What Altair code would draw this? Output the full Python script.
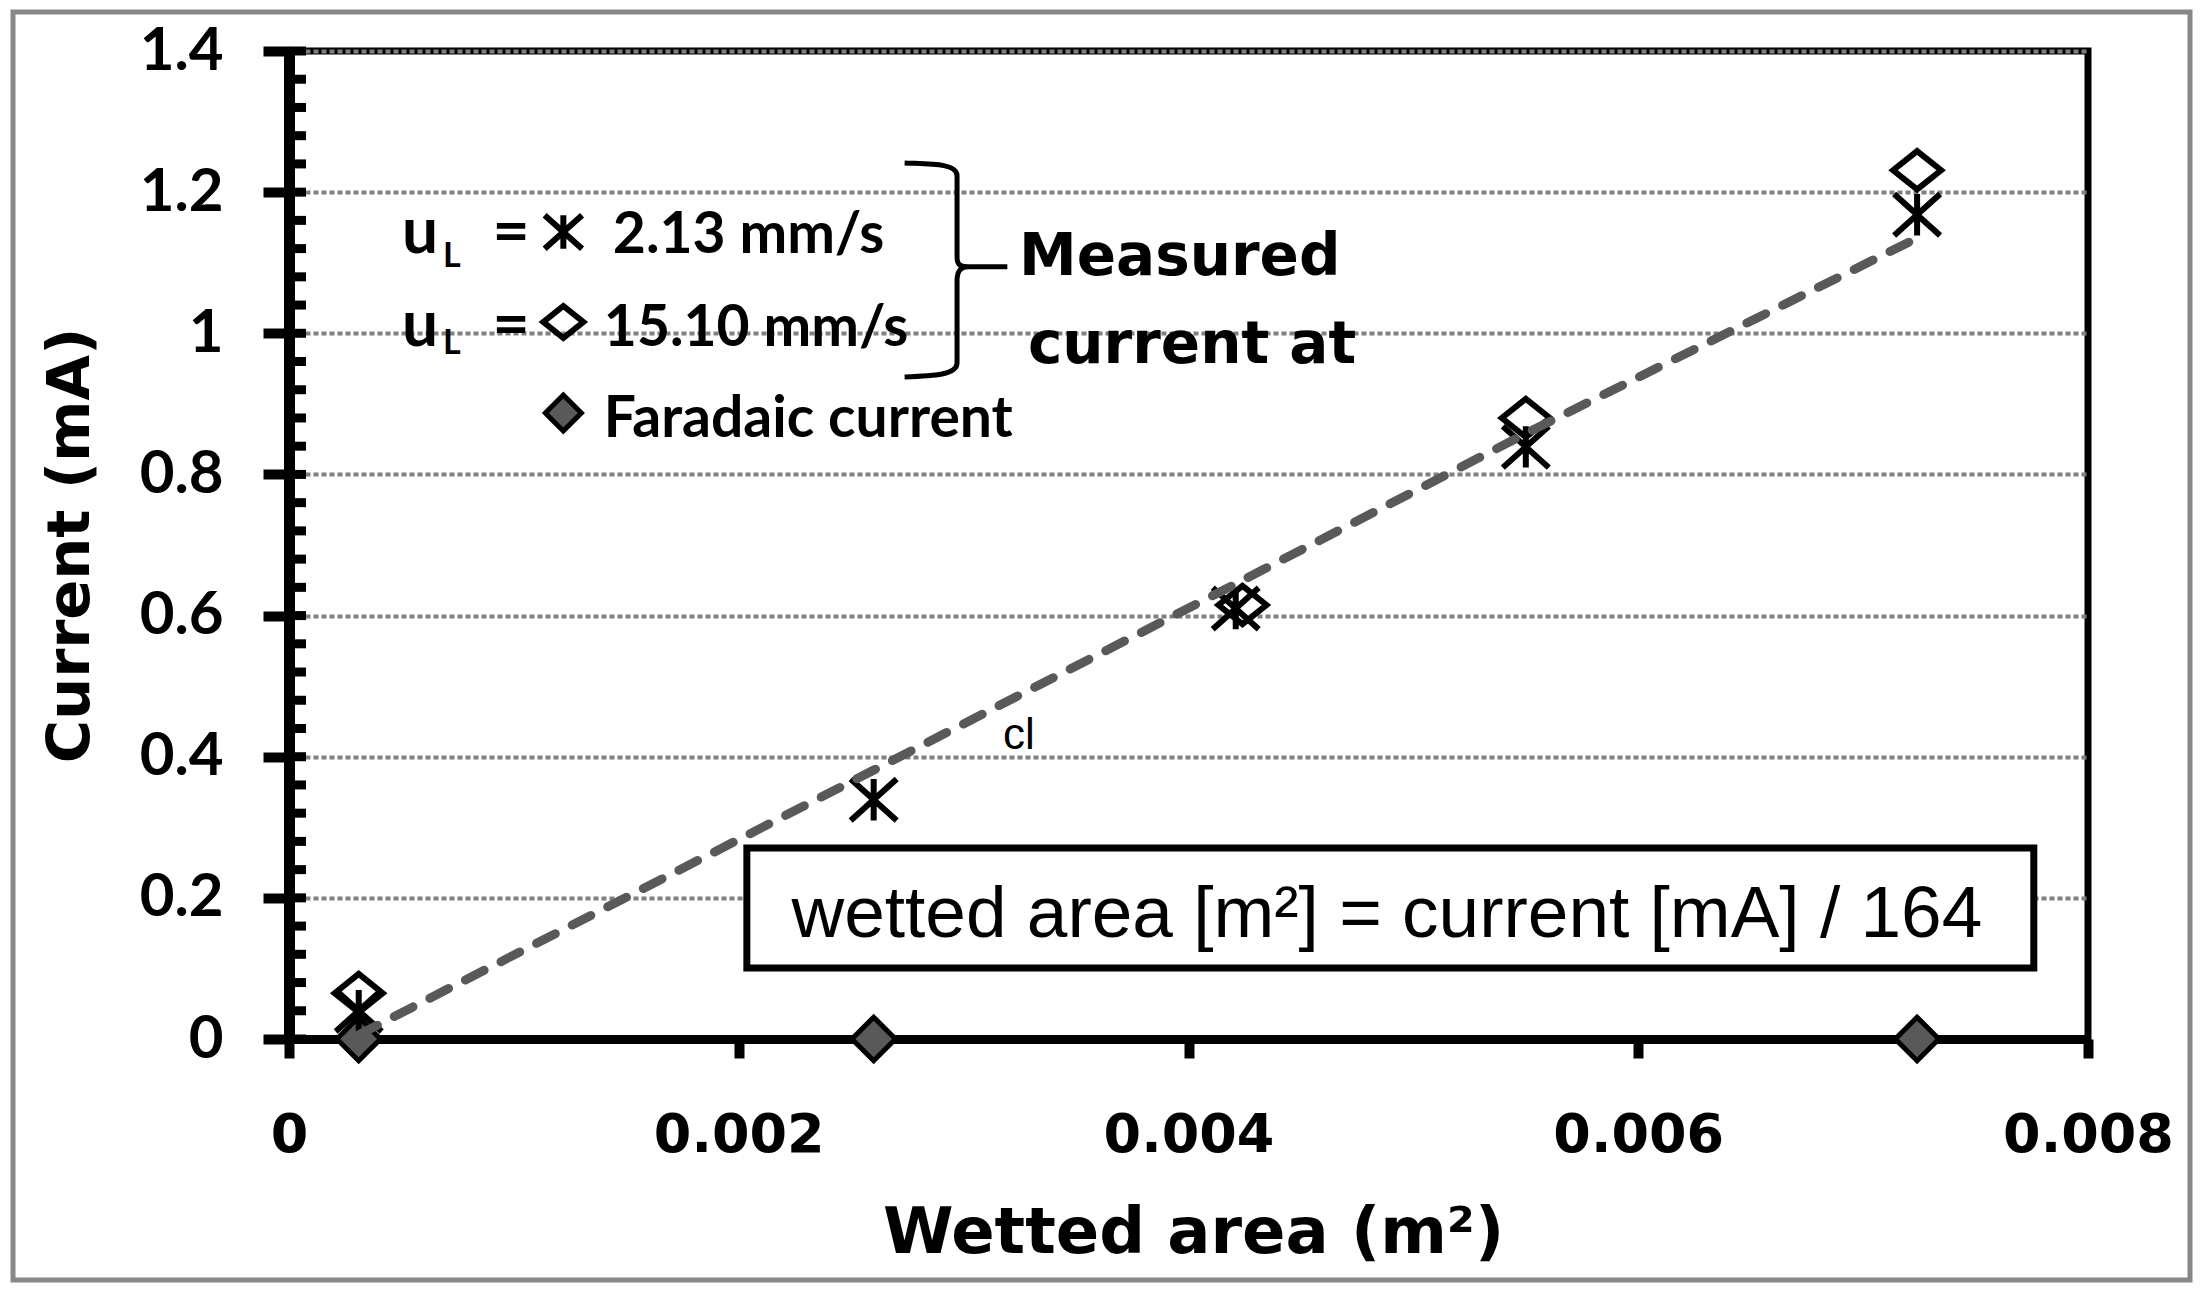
import altair as alt
import pandas as pd

# ---------------- data ----------------
area_213 = [0.00031, 0.0026, 0.00421, 0.0055, 0.00724]
current_213 = [0.04, 0.339, 0.61, 0.839, 1.168]

area_1510 = [0.00031, 0.00424, 0.0055, 0.00724]
current_1510 = [0.065, 0.615, 0.88, 1.231]

area_faradaic = [0.00031, 0.0026, 0.00724]
current_faradaic = [0.0, 0.0, 0.0]

fit_area = [0.00031, 0.0026, 0.00421, 0.0055, 0.00724]
fit_current = [0.006, 0.381, 0.645, 0.858, 1.135]

x_ticks = [0, 0.002, 0.004, 0.006, 0.008]
y_ticks = [0, 0.2, 0.4, 0.6, 0.8, 1.0, 1.2, 1.4]
y_minor = [round(i * 0.04, 2) for i in range(36)]

# annotation texts (positions in data units)
legend_lines = ["2.13 mm/s", "15.10 mm/s", "Faradaic current"]
legend_x = [0.00144, 0.0014, 0.0014]
legend_y = [1.114, 0.982, 0.853]
u_y = [1.114, 0.982]
sub_y = [1.094, 0.971]
sym_x = 0.00122
sym_y = [1.1435, 1.016, 0.887]
measured_lines = ["Measured", "current at"]
measured_x = [0.003246, 0.003286]
measured_y = [1.0826, 0.958]
brace_pos = (0.002966, 1.0897)
box_x = [0.002036, 0.007759]
box_y = [0.1006, 0.2707]
box_text = "wetted area [m²] = current [mA] / 164"
box_text_pos = (0.004882, 0.1445)
stray_text = "cl"
stray_pos = (0.003175, 0.411)

W, H = 1799, 988

star_path = "M-1,-0.9L1,0.9M-1,0.9L1,-0.9M0,-0.9L0,0.9"
diamond_open = "M0,-0.8L1,0L0,0.8L-1,0Z"
brace_path = ("M-0.48,-1 C-0.25,-0.99 0.01,-1 0.01,-0.88 L0.01,-0.12 "
              "C0.01,-0.04 0.05,-0.03 0.12,-0.03 L0.48,-0.03 "
              "M0.12,-0.03 C0.05,-0.03 0.01,0 0.01,0.1 L0.01,0.87 "
              "C0.01,0.98 -0.2,0.99 -0.48,1")

x_axis = alt.Axis(
    values=x_ticks, format="~g", title="Wetted area (m²)", grid=False,
    domainWidth=9, domainColor="black", tickColor="black", tickSize=19, tickWidth=10,
    labelFont="DejaVu Sans", labelFontSize=54, labelFontWeight="bold", labelColor="black",
    labelPadding=50, labelFlush=False,
    titleFont="DejaVu Sans", titleFontSize=64, titleFontWeight="bold", titleColor="black",
    titleX=904, titleY=213, titleBaseline="alphabetic", titleAlign="center",
)
y_axis = alt.Axis(
    values=y_ticks, format="~g", title="Current (mA)", grid=True,
    gridColor="#808080", gridDash=[5, 3], gridWidth=4,
    domainWidth=11, domainColor="black", tickColor="black", tickSize=26, tickWidth=10,
    labelFont="Lato", labelFontSize=60, labelFontWeight="bold", labelColor="black",
    labelPadding=40, labelFlush=False,
    titleFont="DejaVu Sans", titleFontSize=59, titleFontWeight="bold", titleColor="black",
    titleX=-219, titleY=494, titleBaseline="middle", titleAlign="center",
)
xs = alt.Scale(domain=[0, 0.008], nice=False, zero=False)
ys = alt.Scale(domain=[0, 1.4], nice=False, zero=False)


def X():
    return alt.X("x:Q", scale=xs, axis=x_axis)


def Y():
    return alt.Y("y:Q", scale=ys, axis=y_axis)


df213 = pd.DataFrame({"x": area_213, "y": current_213})
df1510 = pd.DataFrame({"x": area_1510, "y": current_1510})
dffar = pd.DataFrame({"x": area_faradaic, "y": current_faradaic})
dffit = pd.DataFrame({"x": fit_area, "y": fit_current})
dfminor = pd.DataFrame({"y": y_minor})

frame = alt.Chart(pd.DataFrame({"a": [0]})).mark_rect(
    fill="transparent", stroke="#888888", strokeWidth=5
).encode(x=alt.value(-276), x2=alt.value(1901), y=alt.value(-39), y2=alt.value(1229))

base = alt.Chart(dffar).mark_point(opacity=0).encode(x=X(), y=Y())

minor = alt.Chart(dfminor).mark_rule(color="black", strokeWidth=9).encode(
    y=Y(), x=alt.value(0), x2=alt.value(17)
)

box = alt.Chart(pd.DataFrame({"x": [box_x[0]], "x2": [box_x[1]], "y": [box_y[0]], "y2": [box_y[1]]})).mark_rect(
    fill="white", stroke="black", strokeWidth=7
).encode(x=X(), x2="x2:Q", y=Y(), y2="y2:Q")

box_label = alt.Chart(pd.DataFrame({"x": [box_text_pos[0]], "y": [box_text_pos[1]], "t": [box_text]})).mark_text(
    font="Liberation Sans", fontSize=73, align="center", baseline="alphabetic", color="black"
).encode(x=X(), y=Y(), text="t:N")

stray = alt.Chart(pd.DataFrame({"x": [stray_pos[0]], "y": [stray_pos[1]], "t": [stray_text]})).mark_text(
    font="Liberation Sans", fontSize=44, align="left", baseline="alphabetic", color="black"
).encode(x=X(), y=Y(), text="t:N")

far_pts = alt.Chart(dffar).mark_point(
    shape="diamond", filled=True, fill="#595959", stroke="black", strokeWidth=5, size=1900, opacity=1
).encode(x=X(), y=Y())

pts1510 = alt.Chart(df1510).mark_point(
    shape=diamond_open, filled=False, stroke="black", strokeWidth=6, size=2304, opacity=1
).encode(x=X(), y=Y())

pts213 = alt.Chart(df213).mark_point(
    shape=star_path, filled=False, stroke="black", strokeWidth=6, size=2116, opacity=1
).encode(x=X(), y=Y())

fit = alt.Chart(dffit).mark_line(
    color="#595959", strokeWidth=9, strokeDash=[21, 19], strokeCap="round"
).encode(x=X(), y=Y())

# legend block
leg_text = alt.Chart(pd.DataFrame({"x": legend_x, "y": legend_y, "t": legend_lines})).mark_text(
    font="Lato", fontSize=57, fontWeight="bold", align="left", baseline="alphabetic", color="black"
).encode(x=X(), y=Y(), text="t:N")

u_text = alt.Chart(pd.DataFrame({"x": [0.000502, 0.000502], "y": u_y, "t": ["u", "u"]})).mark_text(
    font="Lato", fontSize=64, fontWeight="bold", align="left", baseline="alphabetic", color="black"
).encode(x=X(), y=Y(), text="t:N")

sub_text = alt.Chart(pd.DataFrame({"x": [0.000685, 0.000685], "y": sub_y, "t": ["L", "L"]})).mark_text(
    font="Lato", fontSize=34, fontWeight="bold", align="left", baseline="alphabetic", color="black"
).encode(x=X(), y=Y(), text="t:N")

eq_text = alt.Chart(pd.DataFrame({"x": [0.000905, 0.000905], "y": u_y, "t": ["=", "="]})).mark_text(
    font="Lato", fontSize=64, fontWeight="bold", align="left", baseline="alphabetic", color="black"
).encode(x=X(), y=Y(), text="t:N")

leg_star = alt.Chart(pd.DataFrame({"x": [sym_x], "y": [sym_y[0]]})).mark_point(
    shape=star_path, filled=False, stroke="black", strokeWidth=6, size=1400, opacity=1
).encode(x=X(), y=Y())

leg_diam = alt.Chart(pd.DataFrame({"x": [sym_x], "y": [sym_y[1]]})).mark_point(
    shape=diamond_open, filled=False, stroke="black", strokeWidth=6, size=1600, opacity=1
).encode(x=X(), y=Y())

leg_far = alt.Chart(pd.DataFrame({"x": [sym_x], "y": [sym_y[2]]})).mark_point(
    shape="diamond", filled=True, fill="#595959", stroke="black", strokeWidth=5, size=1300, opacity=1
).encode(x=X(), y=Y())

brace = alt.Chart(pd.DataFrame({"x": [brace_pos[0]], "y": [brace_pos[1]]})).mark_point(
    shape=brace_path, filled=False, stroke="black", strokeWidth=5, size=45796, opacity=1
).encode(x=X(), y=Y())

measured = alt.Chart(pd.DataFrame({"x": measured_x, "y": measured_y, "t": measured_lines})).mark_text(
    font="DejaVu Sans", fontSize=58, fontWeight="bold", align="left", baseline="alphabetic", color="black"
).encode(x=X(), y=Y(), text="t:N")

chart = alt.layer(
    frame, base, minor, box, box_label, stray, far_pts, pts1510, pts213, fit,
    leg_text, u_text, sub_text, eq_text, leg_star, leg_diam, leg_far, brace, measured
).properties(
    width=W, height=H,
    autosize=alt.AutoSizeParams(type="none"),
    padding={"left": 281, "top": 43, "right": 114, "bottom": 251},
    background="white",
).configure_view(stroke="black", strokeWidth=7)

chart.save("out.html", embed_options={"renderer": "svg", "actions": False})
